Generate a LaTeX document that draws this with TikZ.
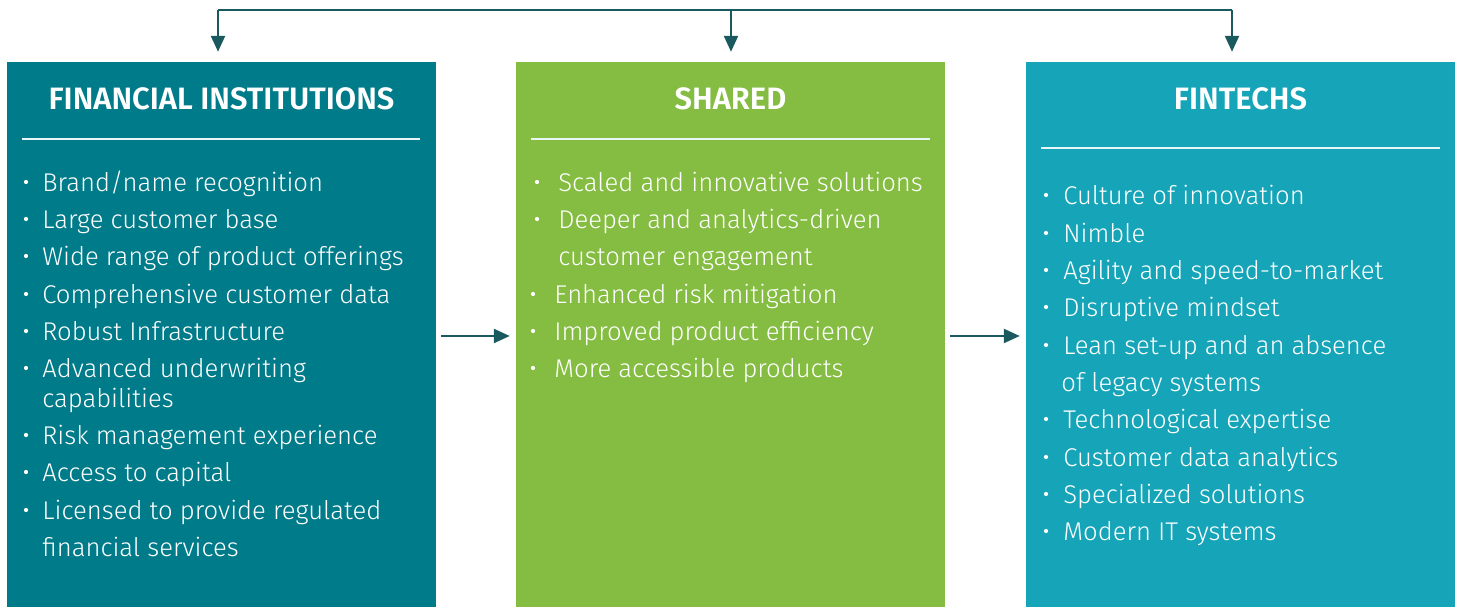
\documentclass[tikz,border=0pt]{standalone}
\usepackage{fontspec}
\setmainfont{Fira Sans}[UprightFont=* Light,BoldFont=* SemiBold]
\usepackage{xcolor}
\definecolor{ColFI}{RGB}{0,123,138}
\definecolor{ColSH}{RGB}{132,189,65}
\definecolor{ColFT}{RGB}{22,165,184}
\definecolor{ColArrow}{RGB}{26,90,95}
\usetikzlibrary{arrows.meta}
\tikzstyle{Box}=[rectangle,inner sep=0pt,minimum width=8.58cm,
minimum height=10.9cm]
\tikzstyle{Title}=[font=\bfseries\fontsize{17.6}{21}\selectfont,text=white,
anchor=base,inner sep=0pt]
\tikzstyle{Item}=[anchor=base west,inner sep=0pt,text=white,
font=\fontsize{14.6}{17}\selectfont]
\tikzstyle{Dot}=[circle,fill=white,inner sep=0pt,minimum size=0.085cm]
\tikzstyle{Rule}=[draw=white!90!ColFT,line width=1pt]
\tikzstyle{Link}=[draw=ColArrow,line width=1.1pt,
-{Triangle[length=9pt,width=8pt]}]

\begin{document}
\begin{tikzpicture}[x=0.02cm,y=-0.02cm]
        \useasboundingbox(0,0)rectangle(1458,607);
        \node[Box,fill=ColFI](fi)at(221.5,334.5){};
        \node[Box,fill=ColSH](sh)at(730.5,334.5){};
        \node[Box,fill=ColFT](ft)at(1240.5,334.5){};
        \node[Title](fit)at(221.5,110){FINANCIAL INSTITUTIONS};
        \node[Title](sht)at(730.5,110){SHARED};
        \node[Title](ftt)at(1240.5,110){FINTECHS};
        \draw[Rule](22,139)--(420,139);
        \draw[Rule](531,139)--(930,139);
        \draw[Rule](1041,148)--(1440,148);
        % financial institutions
        \node[Item](fi1)at(42,192){Brand/name recognition};
        \node[Item](fi2)at(42,229){Large customer base};
        \node[Item](fi3)at(42,266){Wide range of product offerings};
        \node[Item](fi4)at(42,304){Comprehensive customer data};
        \node[Item](fi5)at(42,341){Robust Infrastructure};
        \node[Item](fi6)at(42,378){Advanced underwriting};
        \node[Item](fi6b)at(42,408){capabilities};
        \node[Item](fi7)at(42,445){Risk management experience};
        \node[Item](fi8)at(42,482){Access to capital};
        \node[Item](fi9)at(42,520){Licensed to provide regulated};
        \node[Item](fi9b)at(42,557){financial services};
        \foreach \y in {182,219,256,294,331,368,435,472,510}
            \node[Dot]at(26,\y){};
        % shared
        \node[Item](sh1)at(558,192){Scaled and innovative solutions};
        \node[Item](sh2)at(558,229){Deeper and analytics-driven};
        \node[Item](sh2b)at(558,266){customer engagement};
        \node[Item](sh3)at(554,304){Enhanced risk mitigation};
        \node[Item](sh4)at(554,341){Improved product efficiency};
        \node[Item](sh5)at(554,378){More accessible products};
        \foreach \y in {182,219}
            \node[Dot]at(537,\y){};
        \foreach \y in {294,331,368}
            \node[Dot]at(533,\y){};
        % fintechs
        \node[Item](ft1)at(1063,205){Culture of innovation};
        \node[Item](ft2)at(1063,243){Nimble};
        \node[Item](ft3)at(1063,280){Agility and speed-to-market};
        \node[Item](ft4)at(1063,317){Disruptive mindset};
        \node[Item](ft5)at(1063,355){Lean set-up and an absence};
        \node[Item](ft5b)at(1061,392){of legacy systems};
        \node[Item](ft6)at(1063,429){Technological expertise};
        \node[Item](ft7)at(1063,467){Customer data analytics};
        \node[Item](ft8)at(1063,504){Specialized solutions};
        \node[Item](ft9)at(1063,541){Modern IT systems};
        \foreach \y in {195,233,270,307,345,419,457,494,531}
            \node[Dot]at(1046,\y){};
        % connectors
        \coordinate(c1)at(218,10);
        \coordinate(c2)at(731,10);
        \coordinate(c3)at(1232,10);
        \draw[draw=ColArrow,line width=1.1pt](c1)--(c3);
        \draw[Link,shorten >=0.2cm](c1)--(c1|-fi.north);
        \draw[Link,shorten >=0.2cm](c2)--(c2|-sh.north);
        \draw[Link,shorten >=0.2cm](c3)--(c3|-ft.north);
        \draw[Link,shorten <=0.1cm,shorten >=0.12cm]
            (fi.east|-0,336)--(sh.west|-0,336);
        \draw[Link,shorten <=0.1cm,shorten >=0.12cm]
            (sh.east|-0,336)--(ft.west|-0,336);
    \end{tikzpicture}
\end{document}
